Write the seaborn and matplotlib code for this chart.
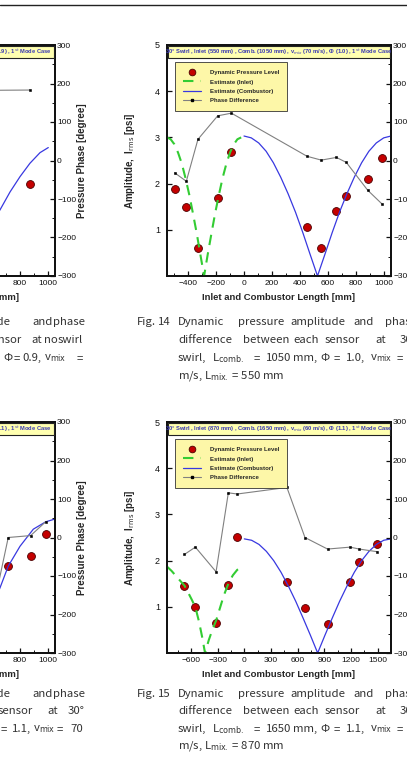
import matplotlib
matplotlib.use("Agg")
import matplotlib.pyplot as plt
from matplotlib.lines import Line2D
from matplotlib.patches import Rectangle
from matplotlib.ticker import MultipleLocator
import seaborn as sns

W, H = 407, 758

# Fig. 14 : 30 deg swirl, inlet 550 mm, combustor 1050 mm
f14_sensor_mm = [-495, -412, -329, -188, -90, 450, 552, 660, 731, 883, 986]
f14_amp = [1.88, 1.50, 0.60, 1.69, 2.68, 1.05, 0.60, 1.41, 1.74, 2.09, 2.55]
f14_phase = [-32, -54, 55, 116, 123, 11, 1, 8, -5, -77, -113]
f14_inlet_mm = [-550, -524, -497, -471, -444, -418, -391, -365, -338, -312, -285,
                -259, -232, -206, -179, -153, -126, -100, -73, -47, -20]
f14_inlet_amp = [3.00, 2.96, 2.85, 2.67, 2.43, 2.12, 1.76, 1.36, 0.93, 0.47, 0.00,
                 0.47, 0.93, 1.36, 1.76, 2.12, 2.43, 2.67, 2.85, 2.96, 3.00]
f14_comb_mm = [0, 52, 105, 158, 210, 262, 315, 368, 420, 472, 525,
               578, 630, 682, 735, 788, 840, 892, 945, 998, 1050]
f14_comb_amp = [3.03, 2.99, 2.88, 2.70, 2.45, 2.14, 1.78, 1.38, 0.94, 0.47, 0.00,
                0.47, 0.94, 1.38, 1.78, 2.14, 2.45, 2.70, 2.88, 2.99, 3.03]

# Fig. 15 : 30 deg swirl, inlet 870 mm, combustor 1650 mm
f15_sensor_mm = [-674, -551, -318, -180, -79, 479, 682, 936, 1191, 1292, 1498]
f15_amp = [1.46, 0.99, 0.65, 1.47, 2.52, 1.53, 0.97, 0.63, 1.53, 1.98, 2.36]
f15_phase = [-44, -25, -89, 116, 113, 130, 0, -30, -25, -30, -37]
f15_inlet_mm = [-870, -820, -770, -720, -674, -630, -590, -551, -510, -475, -442,
                -400, -360, -318, -270, -230, -180, -130, -80, -19]
f15_inlet_amp = [1.87, 1.78, 1.67, 1.56, 1.46, 1.30, 1.15, 0.99, 0.68, 0.35, 0.00,
                 0.28, 0.50, 0.70, 1.00, 1.25, 1.50, 1.68, 1.80, 1.87]
f15_comb_mm = [0, 82, 165, 248, 330, 412, 495, 578, 660, 742, 825,
               908, 990, 1072, 1155, 1238, 1320, 1402, 1485, 1568, 1650]
f15_comb_amp = [2.47, 2.44, 2.35, 2.20, 2.00, 1.75, 1.45, 1.12, 0.76, 0.39, 0.00,
                0.39, 0.76, 1.12, 1.45, 1.75, 2.00, 2.20, 2.35, 2.44, 2.47]

# left column, only the right edge of Fig. 12 / Fig. 13 is on the page
f12_sensor_mm = [871]
f12_amp = [1.99]
f12_phase_mm = [460, 871]
f12_phase = [182, 183]
f12_comb_mm = [600, 657, 729, 800, 871, 943, 1002]
f12_comb_amp = [1.20, 1.43, 1.82, 2.15, 2.44, 2.67, 2.78]

f13_sensor_mm = [716, 876, 984]
f13_amp = [1.88, 2.11, 2.58]
f13_phase_mm = [640, 716, 876, 984]
f13_phase = [-130, 0, 5, 41]
f13_comb_mm = [600, 657, 716, 800, 895, 984, 1050]
f13_comb_amp = [1.02, 1.41, 1.88, 2.31, 2.68, 2.84, 2.90]

RED, RED_EDGE = "#c40000", "#4a0000"
GREEN, BLUE, GREY = "#33cc33", "#3838e0", "#808080"
YELLOW = "#fdf7a8"
TEXT = "#262626"

sns.set_style("ticks")
plt.rcParams["font.family"] = ["Liberation Sans Narrow", "Liberation Sans", "DejaVu Sans"]
plt.rcParams["axes.edgecolor"] = "#111111"
plt.rcParams["xtick.color"] = "#111111"
plt.rcParams["ytick.color"] = "#111111"
plt.rcParams["text.color"] = TEXT

fig = plt.figure(figsize=(W / 100, H / 100), dpi=100)


def px_rect(left, top, right, bottom):
    return [left / W, 1 - bottom / H, (right - left) / W, (bottom - top) / H]


def panel(rect, xlim, xstep, sensor_mm, amp, phase_mm, phase, inlet, comb,
          title, title_x=0.5, title_ha="center", legend=True):
    ax = fig.add_axes(rect)
    ax2 = ax.twinx()

    if sensor_mm:
        sns.scatterplot(x=sensor_mm, y=amp, ax=ax, s=32, color=RED,
                        edgecolor=RED_EDGE, linewidth=0.6, zorder=2, legend=False)
    if inlet:
        sns.lineplot(x=inlet[0], y=inlet[1], ax=ax, color=GREEN, lw=1.5,
                     linestyle=(0, (5, 3.5)), zorder=3)
    sns.lineplot(x=comb[0], y=comb[1], ax=ax, color=BLUE, lw=0.9, zorder=3)
    sns.lineplot(x=phase_mm, y=phase, ax=ax2, color=GREY, lw=0.8, marker="s",
                 markersize=1.6, markerfacecolor="k", markeredgecolor="k",
                 markeredgewidth=0.4, zorder=3)

    ax.set_xlim(*xlim)
    ax.xaxis.set_major_locator(MultipleLocator(xstep))
    ax.xaxis.set_minor_locator(MultipleLocator(xstep / 2))
    ax.set_ylim(0, 5)
    ax.set_yticks([1, 2, 3, 4, 5])
    ax2.set_ylim(-300, 300)
    ax2.set_yticks(range(-300, 301, 100))
    ax2.yaxis.set_minor_locator(MultipleLocator(50))

    ax.tick_params(axis="x", which="major", direction="in", length=3.5, width=0.9,
                   labelsize=6, pad=3)
    ax.tick_params(axis="x", which="minor", direction="in", length=2, width=0.7)
    ax.tick_params(axis="y", which="major", direction="in", length=3.5, width=0.9,
                   labelsize=6.5, pad=5)
    ax2.tick_params(axis="y", which="major", direction="in", length=3.5, width=0.9,
                    labelsize=6, pad=1.5)
    ax2.tick_params(axis="y", which="minor", direction="in", length=2, width=0.7)
    for a in (ax, ax2):
        for sp in a.spines.values():
            sp.set_linewidth(1.3)

    ax.set_xlabel("Inlet and Combustor Length [mm]", fontsize=6.8, weight="bold")
    ax.xaxis.set_label_coords(0.5, -0.072)
    ax.set_ylabel("Amplitude,  I$_{\\mathrm{rms}}$ [psi]", fontsize=7, weight="bold")
    ax.yaxis.set_label_coords(-0.132, 0.5)
    ax2.set_ylabel("Pressure Phase [degree]", fontsize=7, weight="bold")
    ax2.yaxis.set_label_coords(1.10, 0.5)

    ax2.add_patch(Rectangle((0.004, 0.942), 0.992, 0.053, transform=ax2.transAxes,
                            facecolor="#ffffb0", edgecolor="#222222", lw=0.8,
                            zorder=5, clip_on=False))
    ax2.text(title_x, 0.968, title, transform=ax2.transAxes, ha=title_ha, va="center",
             fontsize=4.15, weight="bold", color="#3a3ab4", zorder=6)

    if legend:
        handles = [
            Line2D([], [], ls="none", marker="o", ms=4.8, mfc=RED, mec=RED_EDGE,
                   mew=0.6, label="Dynamic Pressure Level"),
            Line2D([], [], color=GREEN, lw=1.5, ls=(0, (5, 3.5)),
                   label="Estimate (Inlet)"),
            Line2D([], [], color=BLUE, lw=0.9, label="Estimate (Combustor)"),
            Line2D([], [], color=GREY, lw=0.8, marker="s", ms=1.6, mfc="k", mec="k",
                   label="Phase Difference"),
        ]
        leg = ax2.legend(handles=handles, loc="upper left",
                         bbox_to_anchor=(0.036, 0.926), borderaxespad=0, frameon=True,
                         fancybox=False, facecolor=YELLOW, edgecolor="#333333",
                         framealpha=1, prop=dict(size=4.3, weight="bold"),
                         handlelength=3.0, handletextpad=1.6, labelspacing=0.72,
                         borderpad=1.3)
        leg.get_frame().set_linewidth(0.6)
        leg.set_zorder(7)
    return ax, ax2


t14 = ("30° Swirl , Inlet (550 mm) , Comb. (1050 mm) , v$_{mix}$ (70 m/s) , "
       "Φ (1.0) , 1$^{st}$ Mode Case")
t15 = ("30° Swirl , Inlet (870 mm) , Comb. (1650 mm) , v$_{mix}$ (60 m/s) , "
       "Φ (1.1) , 1$^{st}$ Mode Case")
t12 = "v$_{mix}$ (70 m/s) , Φ (0.9) , 1$^{st}$ Mode Case"
t13 = "v$_{mix}$ (70 m/s) , Φ (1.1) , 1$^{st}$ Mode Case"

panel(px_rect(167, 45, 391, 276), (-550, 1050), 200, f14_sensor_mm, f14_amp,
      f14_sensor_mm, f14_phase, (f14_inlet_mm, f14_inlet_amp),
      (f14_comb_mm, f14_comb_amp), t14)
panel(px_rect(167, 422, 391, 653), (-870, 1650), 300, f15_sensor_mm, f15_amp,
      f15_sensor_mm, f15_phase, (f15_inlet_mm, f15_inlet_amp),
      (f15_comb_mm, f15_comb_amp), t15)
panel(px_rect(-169, 45, 55, 276), (-550, 1050), 200, f12_sensor_mm, f12_amp,
      f12_phase_mm, f12_phase, None, (f12_comb_mm, f12_comb_amp), t12,
      title_x=0.985, title_ha="right", legend=False)
panel(px_rect(-169, 422, 55, 653), (-550, 1050), 200, f13_sensor_mm, f13_amp,
      f13_phase_mm, f13_phase, None, (f13_comb_mm, f13_comb_amp), t13,
      title_x=0.985, title_ha="right", legend=False)

# running-head rule at the top of the page
fig.add_artist(Line2D([0, 1], [1 - 4.5 / H] * 2, lw=1.0, color="#222222"))

CAP = dict(fontsize=8.2, color="#333333", va="center",
           family=["Noto Sans CJK KR", "DejaVu Sans"])


def words(y, items):
    for item in items:
        x, w = item[0], item[1]
        ha = item[2] if len(item) > 2 else "left"
        fig.text(x / W, 1 - y / H, w, ha=ha, **CAP)


def caption(num, ys, line3, line4, third_word):
    words(ys[0], [(137, "Fig."), (158, num), (178, "Dynamic"), (238, "pressure"),
                  (290, "amplitude"), (353, "and"), (385, "phase")])
    words(ys[1], [(178, "difference"), (243, "between"), (293, "each"),
                  (325, "sensor"), (375, "at"), (400, third_word)])
    words(ys[2], line3)
    words(ys[3], [(178, line4)])


caption("14", (322, 340, 358, 376),
        [(178, "swirl,"), (212, "L$_{\\rm comb.}$"), (254, "="), (266, "1050"),
         (293, "mm,"), (320, "Φ"), (334, "="), (346, "1.0,"), (370, "v$_{\\rm mix}$"),
         (397, "=")],
        "m/s, L$_{\\rm mix.}$ = 550 mm", "30°")
caption("15", (694, 711, 729, 746),
        [(178, "swirl,"), (212, "L$_{\\rm comb.}$"), (254, "="), (266, "1650"),
         (293, "mm,"), (320, "Φ"), (334, "="), (346, "1.1,"), (370, "v$_{\\rm mix}$"),
         (397, "=")],
        "m/s, L$_{\\rm mix.}$ = 870 mm", "30°")

# cut-off captions of the left column
words(322, [(10, "amplitude", "right"), (32, "and"), (53, "phase")])
words(340, [(22, "sensor", "right"), (31, "at"), (44, "no"), (58, "swirl")])
words(358, [(-2, "mm,", "right"), (3, "Φ"), (14, "="), (22, "0.9,"),
            (44, "v$_{\\rm mix}$"), (77, "=")])
words(694, [(10, "amplitude", "right"), (32, "and"), (53, "phase")])
words(711, [(33, "sensor", "right"), (47, "at"), (68, "30°")])
words(729, [(7, "=", "right"), (12, "1.1,"), (33, "v$_{\\rm mix}$"), (57, "="),
            (70, "70")])

fig.savefig("out.png", dpi=100)
